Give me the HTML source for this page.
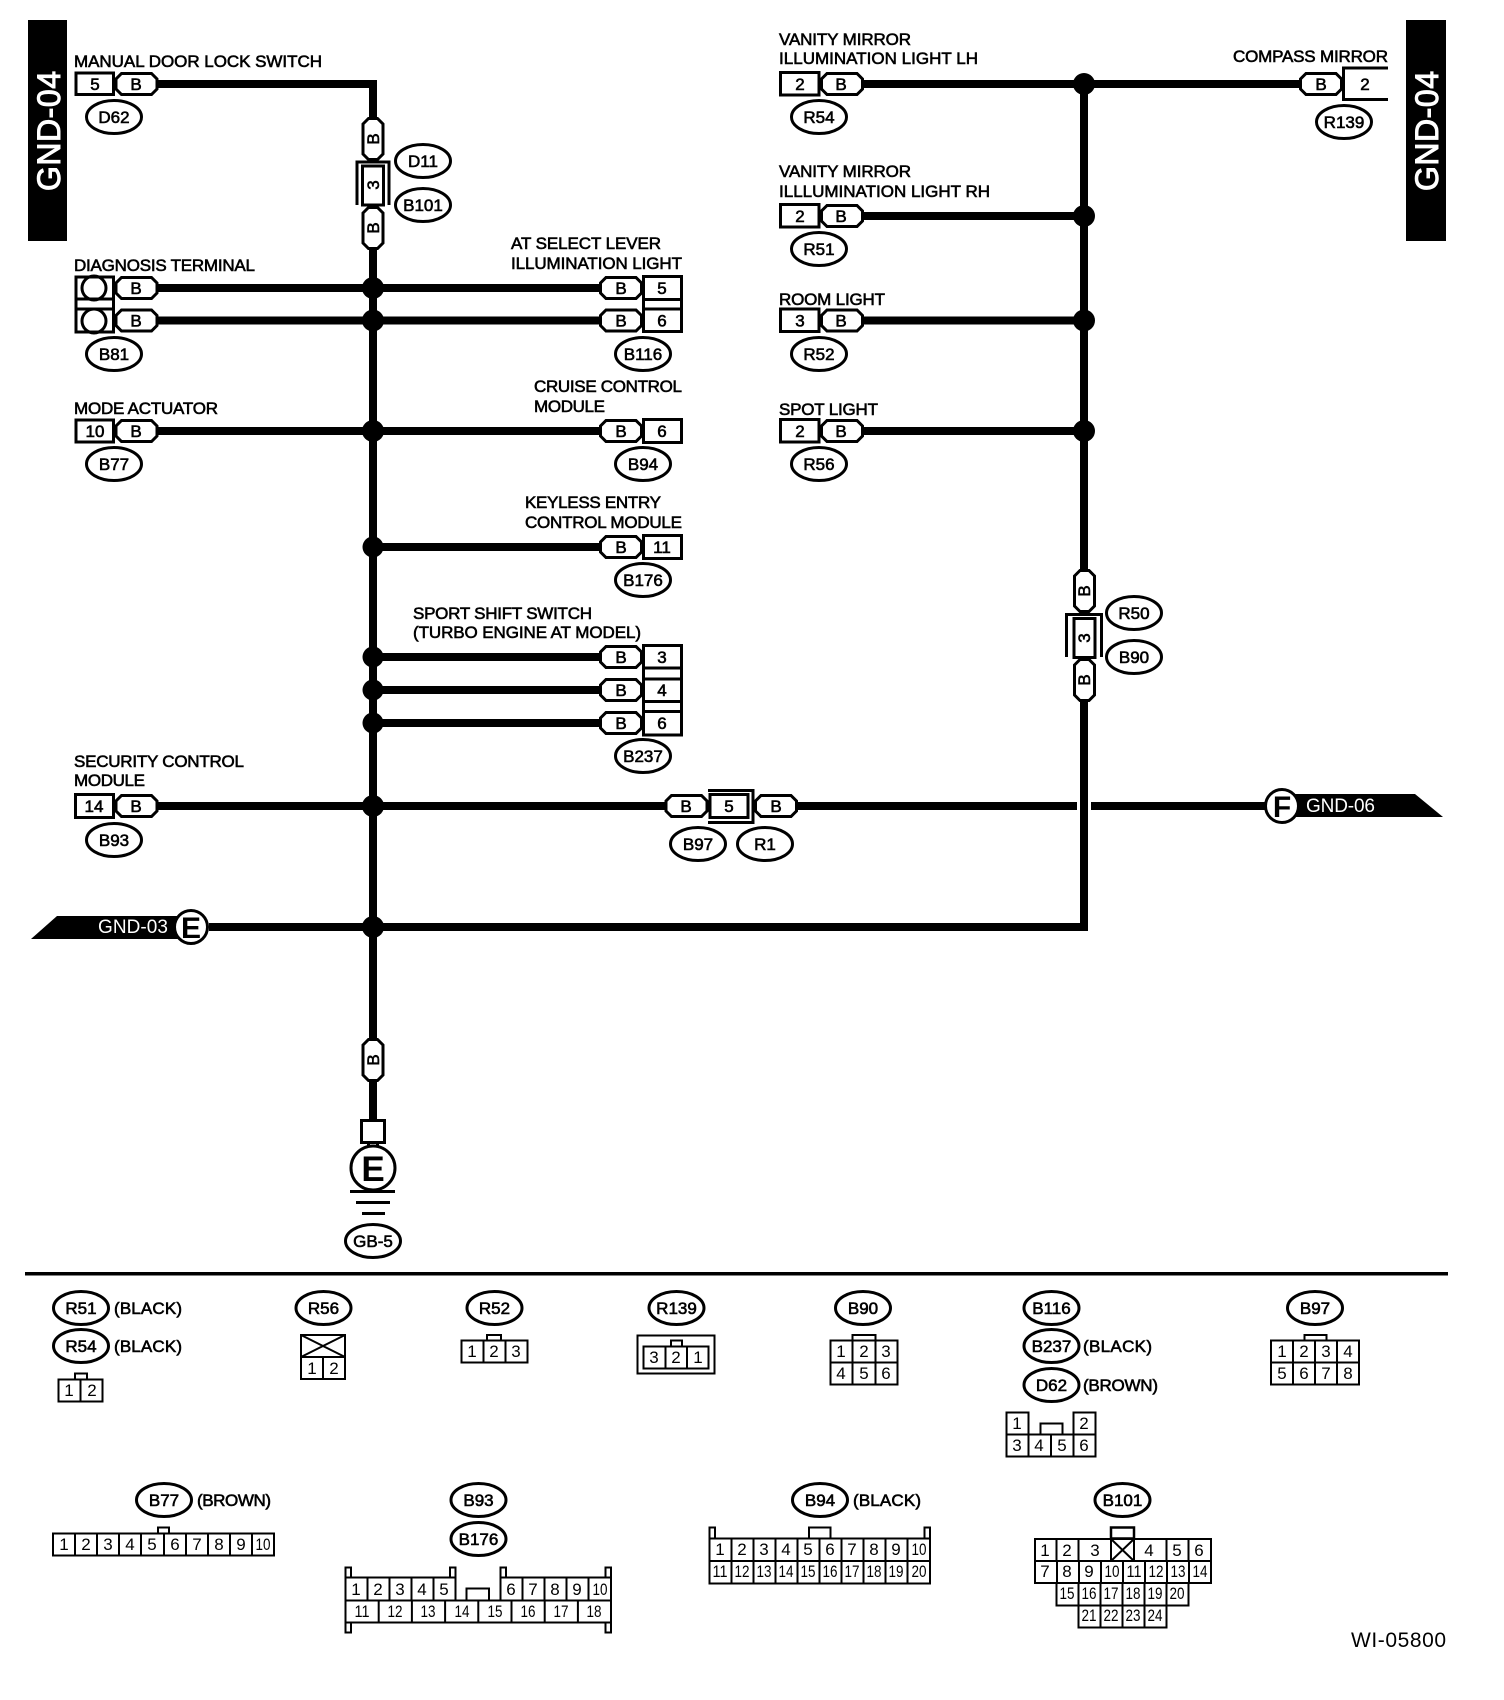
<!DOCTYPE html>
<html><head><meta charset="utf-8"><style>
html,body{margin:0;padding:0;background:#fff}
svg{display:block}
text{font-family:"Liberation Sans",sans-serif;fill:#000}
.t{font-size:17px;stroke:#000;stroke-width:.6}
.c{font-size:17px;stroke:#000;stroke-width:.6;text-anchor:middle}
.n{font-size:17px;text-anchor:middle}
.w{fill:#fff}
.l{fill:none;stroke:#000;stroke-width:2}
.m{fill:none;stroke:#000;stroke-width:3}
.f{fill:#fff;stroke:#000;stroke-width:3}
</style></head><body>
<svg width="1504" height="1700" viewBox="0 0 1504 1700" xmlns="http://www.w3.org/2000/svg">
<defs>
<polygon id="hp" class="f" points="-15,-10.500 15,-10.500 20.500,-5 20.500,5 15,10.500 -15,10.500 -20.500,5 -20.500,-5"/>
<polygon id="vp" class="f" points="-10,-15 -4.500,-20.500 4.500,-20.500 10,-15 10,15 4.500,20.500 -4.500,20.500 -10,15"/>
<ellipse id="el" class="f" cx="0" cy="0" rx="27.500" ry="16.500"/>
</defs>
<rect width="1504" height="1700" fill="#fff"/>

<!-- side bars -->
<rect x="28" y="20" width="39" height="221" fill="#000"/>
<text transform="translate(60,191) rotate(-90)" font-size="32" textLength="120" style="fill:#fff;stroke:#fff;stroke-width:1">GND-04</text>
<rect x="1406" y="20" width="40" height="221" fill="#000"/>
<text transform="translate(1438,191) rotate(-90)" font-size="32" textLength="120" style="fill:#fff;stroke:#fff;stroke-width:1">GND-04</text>

<!-- wires -->
<g fill="none" stroke="#000" stroke-width="8">
<path d="M158 84H373V120"/>
<path d="M373 246V1040"/>
<path d="M373 1080V1120"/>
<path d="M158 288H600M158 320.500H600M158 431H600"/>
<path d="M373 547H600M373 657H600M373 690H600M373 723H600"/>
<path d="M158 806H666M798 806H1077M1091 806H1270"/>
<path d="M209 927H1084V700"/>
<path d="M1084 570V84"/>
<path d="M864 84H1300M864 216H1084M864 320.500H1084M864 431H1084"/>
</g>

<!-- junction dots -->
<g fill="#000">
<circle cx="373" cy="288" r="11"/><circle cx="373" cy="320.500" r="11"/><circle cx="373" cy="431" r="11"/>
<circle cx="373" cy="547" r="10.5"/><circle cx="373" cy="657" r="10.5"/><circle cx="373" cy="690" r="10.5"/><circle cx="373" cy="723" r="10.5"/>
<circle cx="373" cy="806" r="11"/><circle cx="373" cy="927" r="11"/>
<circle cx="1084" cy="84" r="11"/><circle cx="1084" cy="216" r="11"/><circle cx="1084" cy="320.500" r="11"/><circle cx="1084" cy="431" r="11"/>
</g>

<!-- top-left row -->
<text class="t" x="74" y="67" textLength="248">MANUAL DOOR LOCK SWITCH</text>
<rect class="f" x="76" y="73" width="37.500" height="21.500"/>
<use href="#hp" x="136.500" y="84"/>
<text class="c" x="95" y="90">5</text><text class="c" x="136" y="90">B</text>
<use href="#el" x="114" y="117"/><text class="c" x="114" y="123">D62</text>

<!-- vertical connector left -->
<use href="#vp" x="373" y="139"/>
<text class="c" transform="translate(379,139) rotate(-90)">B</text>
<path class="m" d="M357 205V162H389V205"/>
<rect class="f" x="362.500" y="166" width="21" height="39"/>
<text class="c" transform="translate(379,185) rotate(-90)">3</text>
<use href="#vp" x="373" y="228"/>
<text class="c" transform="translate(379,228) rotate(-90)">B</text>
<use href="#el" x="423" y="161"/><text class="c" x="423" y="167">D11</text>
<use href="#el" x="423" y="205"/><text class="c" x="423" y="211">B101</text>

<!-- diagnosis -->
<text class="t" x="74" y="271" textLength="181">DIAGNOSIS TERMINAL</text>
<rect class="f" x="76" y="277" width="37.500" height="55"/>
<path class="m" d="M76 299H114M76 309H114"/>
<circle class="m" cx="94" cy="288" r="12"/><circle class="m" cx="94" cy="321" r="12"/>
<use href="#hp" x="136.500" y="288"/><use href="#hp" x="136.500" y="320.500"/>
<text class="c" x="136" y="294">B</text><text class="c" x="136" y="326.500">B</text>
<use href="#el" x="114" y="354"/><text class="c" x="114" y="360">B81</text>

<!-- mode actuator -->
<text class="t" x="74" y="414" textLength="144">MODE ACTUATOR</text>
<rect class="f" x="76" y="420" width="37.500" height="22"/>
<use href="#hp" x="136.500" y="431"/>
<text class="c" x="95" y="437">10</text><text class="c" x="136" y="437">B</text>
<use href="#el" x="114" y="464"/><text class="c" x="114" y="470">B77</text>

<!-- AT select -->
<text class="t" x="511" y="249" textLength="150">AT SELECT LEVER</text>
<text class="t" x="511" y="269" textLength="171">ILLUMINATION LIGHT</text>
<rect class="f" x="643.500" y="276.500" width="38" height="55"/>
<path class="m" d="M644 299.500H681M644 309H681"/>
<use href="#hp" x="621" y="288"/><use href="#hp" x="621" y="320.500"/>
<text class="c" x="621" y="294">B</text><text class="c" x="621" y="326.500">B</text>
<text class="c" x="662" y="294">5</text><text class="c" x="662" y="326.500">6</text>
<use href="#el" x="643" y="354"/><text class="c" x="643" y="360">B116</text>

<!-- cruise -->
<text class="t" x="534" y="392" textLength="148">CRUISE CONTROL</text>
<text class="t" x="534" y="412" textLength="71">MODULE</text>
<rect class="f" x="643.500" y="419.500" width="38" height="23"/>
<use href="#hp" x="621" y="431"/>
<text class="c" x="621" y="437">B</text><text class="c" x="662" y="437">6</text>
<use href="#el" x="643" y="464"/><text class="c" x="643" y="470">B94</text>

<!-- keyless -->
<text class="t" x="525" y="508" textLength="136">KEYLESS ENTRY</text>
<text class="t" x="525" y="528" textLength="157">CONTROL MODULE</text>
<rect class="f" x="643.500" y="535.500" width="38" height="23"/>
<use href="#hp" x="621" y="547"/>
<text class="c" x="621" y="553">B</text><text class="c" x="662" y="553">11</text>
<use href="#el" x="643" y="580"/><text class="c" x="643" y="586">B176</text>

<!-- sport shift -->
<text class="t" x="413" y="619" textLength="179">SPORT SHIFT SWITCH</text>
<text class="t" x="413" y="638" textLength="228">(TURBO ENGINE AT MODEL)</text>
<rect class="f" x="643.500" y="645.500" width="38" height="89.500"/>
<path class="m" d="M644 668H681M644 679H681M644 701.500H681M644 711.500H681"/>
<use href="#hp" x="621" y="657"/><use href="#hp" x="621" y="690"/><use href="#hp" x="621" y="723"/>
<text class="c" x="621" y="663">B</text><text class="c" x="621" y="696">B</text><text class="c" x="621" y="729">B</text>
<text class="c" x="662" y="663">3</text><text class="c" x="662" y="696">4</text><text class="c" x="662" y="729">6</text>
<use href="#el" x="643" y="756"/><text class="c" x="643" y="762">B237</text>

<!-- security -->
<text class="t" x="74" y="767" textLength="170">SECURITY CONTROL</text>
<text class="t" x="74" y="786" textLength="71">MODULE</text>
<rect class="f" x="75.500" y="794.500" width="38" height="23"/>
<use href="#hp" x="136.500" y="806"/>
<text class="c" x="94" y="812">14</text><text class="c" x="136" y="812">B</text>
<use href="#el" x="114" y="840"/><text class="c" x="114" y="846">B93</text>

<!-- inline connector -->
<use href="#hp" x="686.500" y="806"/>
<path class="m" d="M708 790.500H753V822.500H708"/>
<rect class="f" x="710" y="794.500" width="38" height="23"/>
<use href="#hp" x="776" y="806"/>
<text class="c" x="686" y="812">B</text><text class="c" x="729" y="812">5</text><text class="c" x="776" y="812">B</text>
<use href="#el" x="698" y="844"/><text class="c" x="698" y="850">B97</text>
<use href="#el" x="765" y="844"/><text class="c" x="765" y="850">R1</text>

<!-- GND-03 -->
<polygon points="31,939 57,916 192,916 192,939" fill="#000"/>
<text x="98" y="933" font-size="19" textLength="70" style="fill:#fff">GND-03</text>
<circle class="f" cx="191" cy="927" r="16.500"/>
<text x="191" y="938" font-size="30" font-weight="bold" text-anchor="middle">E</text>

<!-- GND-06 -->
<polygon points="1282,794 1415,794 1443,817 1282,817" fill="#000"/>
<text x="1306" y="812" font-size="19" textLength="69" style="fill:#fff">GND-06</text>
<circle class="f" cx="1282" cy="806" r="16.500"/>
<text x="1282" y="817" font-size="30" font-weight="bold" text-anchor="middle">F</text>

<!-- ground symbol -->
<use href="#vp" x="373" y="1060"/>
<text class="c" transform="translate(379,1060) rotate(-90)">B</text>
<rect class="f" x="361.500" y="1120.500" width="23" height="22"/>
<path class="m" d="M368.500 1142V1148M377.500 1142V1148"/>
<circle class="f" cx="373" cy="1168" r="22"/>
<text x="373" y="1181" font-size="35" font-weight="bold" text-anchor="middle">E</text>
<path class="m" d="M350 1191.500H395M356 1202.500H390M362 1213.500H385"/>
<use href="#el" x="373" y="1241"/><text class="c" x="373" y="1247">GB-5</text>

<!-- right rows -->
<text class="t" x="779" y="45" textLength="132">VANITY MIRROR</text>
<text class="t" x="779" y="64" textLength="199">ILLUMINATION LIGHT LH</text>
<rect class="f" x="780.500" y="72.500" width="38.500" height="22.500"/>
<use href="#hp" x="842" y="84"/>
<text class="c" x="800" y="90">2</text><text class="c" x="841" y="90">B</text>
<use href="#el" x="819" y="117"/><text class="c" x="819" y="123">R54</text>

<text class="t" x="779" y="177" textLength="132">VANITY MIRROR</text>
<text class="t" x="779" y="197" textLength="211">ILLLUMINATION LIGHT RH</text>
<rect class="f" x="780.500" y="204.500" width="38.500" height="22.500"/>
<use href="#hp" x="842" y="216"/>
<text class="c" x="800" y="222">2</text><text class="c" x="841" y="222">B</text>
<use href="#el" x="819" y="249"/><text class="c" x="819" y="255">R51</text>

<text class="t" x="779" y="305" textLength="106">ROOM LIGHT</text>
<rect class="f" x="780.500" y="309" width="38.500" height="22.500"/>
<use href="#hp" x="842" y="320.500"/>
<text class="c" x="800" y="326.500">3</text><text class="c" x="841" y="326.500">B</text>
<use href="#el" x="819" y="354"/><text class="c" x="819" y="360">R52</text>

<text class="t" x="779" y="415" textLength="99">SPOT LIGHT</text>
<rect class="f" x="780.500" y="419.500" width="38.500" height="22.500"/>
<use href="#hp" x="842" y="431"/>
<text class="c" x="800" y="437">2</text><text class="c" x="841" y="437">B</text>
<use href="#el" x="819" y="464"/><text class="c" x="819" y="470">R56</text>

<!-- compass -->
<text class="t" x="1233" y="62" textLength="155">COMPASS MIRROR</text>
<path class="f" d="M1388 68H1343.500V99.500H1388" style="fill:#fff"/>
<use href="#hp" x="1321" y="84"/>
<text class="c" x="1321" y="90">B</text><text class="c" x="1365" y="90">2</text>
<use href="#el" x="1344" y="122"/><text class="c" x="1344" y="128">R139</text>

<!-- right vertical connector -->
<use href="#vp" x="1084.500" y="591"/>
<text class="c" transform="translate(1090,591) rotate(-90)">B</text>
<path class="m" d="M1066.500 657V614.500H1101.500V657"/>
<rect class="f" x="1074" y="618.500" width="21" height="39"/>
<text class="c" transform="translate(1090,638) rotate(-90)">3</text>
<use href="#vp" x="1084.500" y="680"/>
<text class="c" transform="translate(1090,680) rotate(-90)">B</text>
<use href="#el" x="1134" y="613"/><text class="c" x="1134" y="619">R50</text>
<use href="#el" x="1134" y="657"/><text class="c" x="1134" y="663">B90</text>

<!-- separator -->
<rect x="25" y="1272" width="1423" height="3.500" fill="#000"/>

<!-- legend row 1 -->
<use href="#el" x="81" y="1308"/><text class="c" x="81" y="1314">R51</text>
<text class="t" x="114" y="1314" textLength="68">(BLACK)</text>
<use href="#el" x="81" y="1346"/><text class="c" x="81" y="1352">R54</text>
<text class="t" x="114" y="1352" textLength="68">(BLACK)</text>
<g class="l"><rect x="75" y="1373.500" width="12" height="6"/><rect x="58.500" y="1379.500" width="44" height="22"/><path d="M80.500 1379.500V1401.500"/></g>
<text class="n" x="69" y="1396">1</text><text class="n" x="92" y="1396">2</text>

<use href="#el" x="323.500" y="1308"/><text class="c" x="323.500" y="1314">R56</text>
<g class="l"><rect x="301" y="1335" width="44" height="44"/><path d="M301 1357H345M323 1357V1379M301 1335L345 1357M345 1335L301 1357"/></g>
<text class="n" x="312" y="1374">1</text><text class="n" x="334" y="1374">2</text>

<use href="#el" x="494.500" y="1308"/><text class="c" x="494.500" y="1314">R52</text>
<g class="l"><rect x="487" y="1335" width="14" height="5.500"/><rect x="461.500" y="1340.500" width="66" height="22"/><path d="M483.500 1340.500V1362.500M505.500 1340.500V1362.500"/></g>
<text class="n" x="472" y="1357">1</text><text class="n" x="494" y="1357">2</text><text class="n" x="516" y="1357">3</text>

<use href="#el" x="676.500" y="1308"/><text class="c" x="676.500" y="1314">R139</text>
<g class="l"><rect x="637.500" y="1335.500" width="77" height="38"/><rect x="643.500" y="1346.500" width="65" height="22"/><rect x="671" y="1340.500" width="11" height="6"/><path d="M665.500 1346.500V1368.500M687 1346.500V1368.500"/></g>
<text class="n" x="654" y="1363">3</text><text class="n" x="676" y="1363">2</text><text class="n" x="698" y="1363">1</text>

<use href="#el" x="863" y="1308"/><text class="c" x="863" y="1314">B90</text>
<g class="l"><rect x="852.500" y="1335" width="23" height="5.500"/><rect x="830.500" y="1340.500" width="67" height="44"/><path d="M830.500 1362.500H897.500M852.500 1340.500V1384.500M875.500 1340.500V1384.500"/></g>
<text class="n" x="841" y="1357">1</text><text class="n" x="864" y="1357">2</text><text class="n" x="886" y="1357">3</text>
<text class="n" x="841" y="1379">4</text><text class="n" x="864" y="1379">5</text><text class="n" x="886" y="1379">6</text>

<use href="#el" x="1051.500" y="1308"/><text class="c" x="1051.500" y="1314">B116</text>
<use href="#el" x="1051.500" y="1346"/><text class="c" x="1051.500" y="1352">B237</text>
<text class="t" x="1083" y="1352" textLength="69">(BLACK)</text>
<use href="#el" x="1051.500" y="1385"/><text class="c" x="1051.500" y="1391">D62</text>
<text class="t" x="1083" y="1391" textLength="75">(BROWN)</text>
<g class="l"><path d="M1006.500 1434.500V1412.500H1028.500V1434.500M1073.500 1434.500V1412.500H1095.500V1434.500M1040.500 1434.500V1423.500H1062.500V1434.500"/><rect x="1006.500" y="1434.500" width="89" height="22"/><path d="M1028.500 1434.500V1456.500M1051 1434.500V1456.500M1073.500 1434.500V1456.500"/></g>
<text class="n" x="1017" y="1429">1</text><text class="n" x="1084" y="1429">2</text>
<text class="n" x="1017" y="1451">3</text><text class="n" x="1039" y="1451">4</text><text class="n" x="1062" y="1451">5</text><text class="n" x="1084" y="1451">6</text>

<use href="#el" x="1315" y="1308"/><text class="c" x="1315" y="1314">B97</text>
<g class="l"><rect x="1304.500" y="1335" width="22" height="5.500"/><rect x="1271" y="1340.500" width="88" height="44"/><path d="M1271 1362.500H1359M1293 1340.500V1384.500M1315 1340.500V1384.500M1337 1340.500V1384.500"/></g>
<text class="n" x="1282" y="1357">1</text><text class="n" x="1304" y="1357">2</text><text class="n" x="1326" y="1357">3</text><text class="n" x="1348" y="1357">4</text>
<text class="n" x="1282" y="1379">5</text><text class="n" x="1304" y="1379">6</text><text class="n" x="1326" y="1379">7</text><text class="n" x="1348" y="1379">8</text>

<!-- legend row 2 -->
<use href="#el" x="164" y="1500"/><text class="c" x="164" y="1506">B77</text>
<text class="t" x="197" y="1506" textLength="74">(BROWN)</text>
<g class="l"><rect x="158" y="1527.500" width="11" height="6"/><rect x="53" y="1533.500" width="221" height="22"/><path d="M75 1533.500V1555.500M97 1533.500V1555.500M119 1533.500V1555.500M141 1533.500V1555.500M164 1533.500V1555.500M186 1533.500V1555.500M208 1533.500V1555.500M230 1533.500V1555.500M252 1533.500V1555.500"/></g>
<text class="n" x="64" y="1550">1</text><text class="n" x="86" y="1550">2</text><text class="n" x="108" y="1550">3</text><text class="n" x="130" y="1550">4</text><text class="n" x="152" y="1550">5</text><text class="n" x="175" y="1550">6</text><text class="n" x="197" y="1550">7</text><text class="n" x="219" y="1550">8</text><text class="n" x="241" y="1550">9</text><text class="n" x="263" y="1550" textLength="15" lengthAdjust="spacingAndGlyphs">10</text>

<use href="#el" x="478.500" y="1500"/><text class="c" x="478.500" y="1506">B93</text>
<use href="#el" x="478.500" y="1539"/><text class="c" x="478.500" y="1545">B176</text>
<g class="l">
<path d="M345.500 1600V1577.500H455.500V1600M500.500 1600V1577.500H611V1600M466.500 1600V1588.500H489V1600"/>
<rect x="345.500" y="1600.500" width="265.500" height="22"/>
<rect x="345.500" y="1567.500" width="5.500" height="10"/><rect x="450" y="1567.500" width="5.500" height="10"/><rect x="500.500" y="1567.500" width="5.500" height="10"/><rect x="605.500" y="1567.500" width="5.500" height="10"/>
<rect x="345.500" y="1622.500" width="5.500" height="10"/><rect x="605.500" y="1622.500" width="5.500" height="10"/>
<path d="M367.500 1577.500V1600M389.500 1577.500V1600M411.500 1577.500V1600M433.500 1577.500V1600M522.500 1577.500V1600M544.500 1577.500V1600M566.500 1577.500V1600M588.500 1577.500V1600"/>
<path d="M378.700 1600.500V1622.500M411.900 1600.500V1622.500M445.100 1600.500V1622.500M478.300 1600.500V1622.500M511.500 1600.500V1622.500M544.700 1600.500V1622.500M577.900 1600.500V1622.500"/>
</g>
<g>
<text class="n" x="356" y="1595">1</text><text class="n" x="378" y="1595">2</text><text class="n" x="400" y="1595">3</text><text class="n" x="422" y="1595">4</text><text class="n" x="444" y="1595">5</text>
<text class="n" x="511" y="1595">6</text><text class="n" x="533" y="1595">7</text><text class="n" x="555" y="1595">8</text><text class="n" x="577" y="1595">9</text><text class="n" x="600" y="1595" textLength="15" lengthAdjust="spacingAndGlyphs">10</text>
<text class="n" x="362" y="1617" textLength="15" lengthAdjust="spacingAndGlyphs">11</text><text class="n" x="395" y="1617" textLength="15" lengthAdjust="spacingAndGlyphs">12</text><text class="n" x="428" y="1617" textLength="15" lengthAdjust="spacingAndGlyphs">13</text><text class="n" x="462" y="1617" textLength="15" lengthAdjust="spacingAndGlyphs">14</text><text class="n" x="495" y="1617" textLength="15" lengthAdjust="spacingAndGlyphs">15</text><text class="n" x="528" y="1617" textLength="15" lengthAdjust="spacingAndGlyphs">16</text><text class="n" x="561" y="1617" textLength="15" lengthAdjust="spacingAndGlyphs">17</text><text class="n" x="594" y="1617" textLength="15" lengthAdjust="spacingAndGlyphs">18</text>
</g>

<use href="#el" x="820" y="1500"/><text class="c" x="820" y="1506">B94</text>
<text class="t" x="853" y="1506" textLength="68">(BLACK)</text>
<g class="l">
<rect x="709.500" y="1527.500" width="5.500" height="11"/><rect x="924.500" y="1527.500" width="5.500" height="11"/><rect x="809" y="1527.500" width="21.500" height="11"/>
<rect x="709.500" y="1538.500" width="220.500" height="45"/>
<path d="M709.500 1561H930M731.500 1538.500V1583.500M753.500 1538.500V1583.500M775.500 1538.500V1583.500M797.500 1538.500V1583.500M819.500 1538.500V1583.500M841.500 1538.500V1583.500M863.500 1538.500V1583.500M885.500 1538.500V1583.500M907.500 1538.500V1583.500"/>
</g>
<text class="n" x="720" y="1555">1</text><text class="n" x="742" y="1555">2</text><text class="n" x="764" y="1555">3</text><text class="n" x="786" y="1555">4</text><text class="n" x="808" y="1555">5</text><text class="n" x="830" y="1555">6</text><text class="n" x="852" y="1555">7</text><text class="n" x="874" y="1555">8</text><text class="n" x="896" y="1555">9</text><text class="n" x="919" y="1555" textLength="15" lengthAdjust="spacingAndGlyphs">10</text>
<text class="n" x="720" y="1577" textLength="15" lengthAdjust="spacingAndGlyphs">11</text><text class="n" x="742" y="1577" textLength="15" lengthAdjust="spacingAndGlyphs">12</text><text class="n" x="764" y="1577" textLength="15" lengthAdjust="spacingAndGlyphs">13</text><text class="n" x="786" y="1577" textLength="15" lengthAdjust="spacingAndGlyphs">14</text><text class="n" x="808" y="1577" textLength="15" lengthAdjust="spacingAndGlyphs">15</text><text class="n" x="830" y="1577" textLength="15" lengthAdjust="spacingAndGlyphs">16</text><text class="n" x="852" y="1577" textLength="15" lengthAdjust="spacingAndGlyphs">17</text><text class="n" x="874" y="1577" textLength="15" lengthAdjust="spacingAndGlyphs">18</text><text class="n" x="896" y="1577" textLength="15" lengthAdjust="spacingAndGlyphs">19</text><text class="n" x="919" y="1577" textLength="15" lengthAdjust="spacingAndGlyphs">20</text>

<use href="#el" x="1122.500" y="1500"/><text class="c" x="1122.500" y="1506">B101</text>
<g class="l">
<rect x="1111" y="1527.500" width="23" height="11" style="stroke-width:2.5"/>
<rect x="1035" y="1539" width="176" height="44"/>
<path d="M1035 1561H1211M1056.500 1539V1561M1078.500 1539V1561M1111 1539V1561M1134 1539V1561M1166.500 1539V1561M1188.500 1539V1561"/>
<path d="M1111 1539L1134 1561M1134 1539L1111 1561"/>
<path d="M1057 1561V1583M1079 1561V1583M1101 1561V1583M1123 1561V1583M1145 1561V1583M1167 1561V1583M1189 1561V1583"/>
<path d="M1056.500 1583V1605.500H1188.500V1583M1078.500 1583V1605.500M1100.500 1583V1605.500M1122.500 1583V1605.500M1144.500 1583V1605.500M1166.500 1583V1605.500"/>
<path d="M1078.500 1605.500V1627.500H1166.500V1605.500M1100.500 1605.500V1627.500M1122.500 1605.500V1627.500M1144.500 1605.500V1627.500"/>
</g>
<text class="n" x="1045" y="1556">1</text><text class="n" x="1067" y="1556">2</text><text class="n" x="1095" y="1556">3</text><text class="n" x="1149" y="1556">4</text><text class="n" x="1177" y="1556">5</text><text class="n" x="1199" y="1556">6</text>
<text class="n" x="1045" y="1577">7</text><text class="n" x="1067" y="1577">8</text><text class="n" x="1089" y="1577">9</text><text class="n" x="1112" y="1577" textLength="15" lengthAdjust="spacingAndGlyphs">10</text><text class="n" x="1134" y="1577" textLength="15" lengthAdjust="spacingAndGlyphs">11</text><text class="n" x="1156" y="1577" textLength="15" lengthAdjust="spacingAndGlyphs">12</text><text class="n" x="1178" y="1577" textLength="15" lengthAdjust="spacingAndGlyphs">13</text><text class="n" x="1200" y="1577" textLength="15" lengthAdjust="spacingAndGlyphs">14</text>
<text class="n" x="1067" y="1599" textLength="15" lengthAdjust="spacingAndGlyphs">15</text><text class="n" x="1089" y="1599" textLength="15" lengthAdjust="spacingAndGlyphs">16</text><text class="n" x="1111" y="1599" textLength="15" lengthAdjust="spacingAndGlyphs">17</text><text class="n" x="1133" y="1599" textLength="15" lengthAdjust="spacingAndGlyphs">18</text><text class="n" x="1155" y="1599" textLength="15" lengthAdjust="spacingAndGlyphs">19</text><text class="n" x="1177" y="1599" textLength="15" lengthAdjust="spacingAndGlyphs">20</text>
<text class="n" x="1089" y="1621" textLength="15" lengthAdjust="spacingAndGlyphs">21</text><text class="n" x="1111" y="1621" textLength="15" lengthAdjust="spacingAndGlyphs">22</text><text class="n" x="1133" y="1621" textLength="15" lengthAdjust="spacingAndGlyphs">23</text><text class="n" x="1155" y="1621" textLength="15" lengthAdjust="spacingAndGlyphs">24</text>

<text x="1351" y="1647" font-size="21" textLength="95">WI-05800</text>
</svg>
</body></html>
